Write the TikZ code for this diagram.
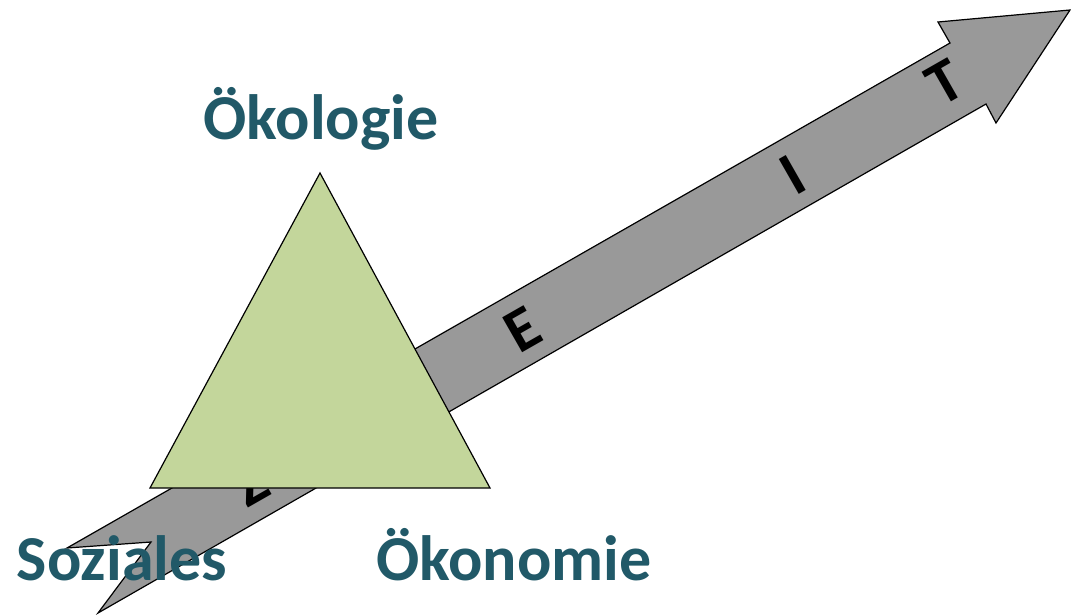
\documentclass[tikz,border=0pt]{standalone}
\usepackage{fontspec}
\setmainfont{Carlito}
\definecolor{labelc}{RGB}{33,89,104}
\definecolor{arrowc}{RGB}{153,153,153}
\definecolor{trif}{RGB}{195,214,155}
\begin{document}
\begin{tikzpicture}[x=1pt,y=-1pt,
  lbl/.style={text=labelc,font=\bfseries\fontsize{64}{66}\selectfont,inner sep=0pt,anchor=base},
  zeit/.style={font=\bfseries\fontsize{62}{64}\selectfont,inner sep=0pt,rotate=29.7}]
\useasboundingbox (0,0) rectangle (1071,614);
% arrow
\draw[fill=arrowc,line width=1.2pt,line join=miter] (67,548) -- (950,43) -- (938,22) -- (1070,10) -- (996,123) -- (986,104) -- (98,613) -- (151,542) -- cycle;
\node[zeit] (z) at (250,484) {Z};
\node[zeit] (e) at (523,330) {E};
\node[zeit] (i) at (793,175) {I};
\node[zeit] (t) at (945,82) {T};
% triangle
\draw[fill=trif,line width=1.2pt] (320,173) -- (490,488) -- (150,488) -- cycle;
% labels
\node[lbl] (oek) at (321,139) {Ökologie};
\node[lbl] (soz) at (122,580) {Soziales};
\node[lbl] (oekon) at (514,580) {Ökonomie};
\end{tikzpicture}
\end{document}
